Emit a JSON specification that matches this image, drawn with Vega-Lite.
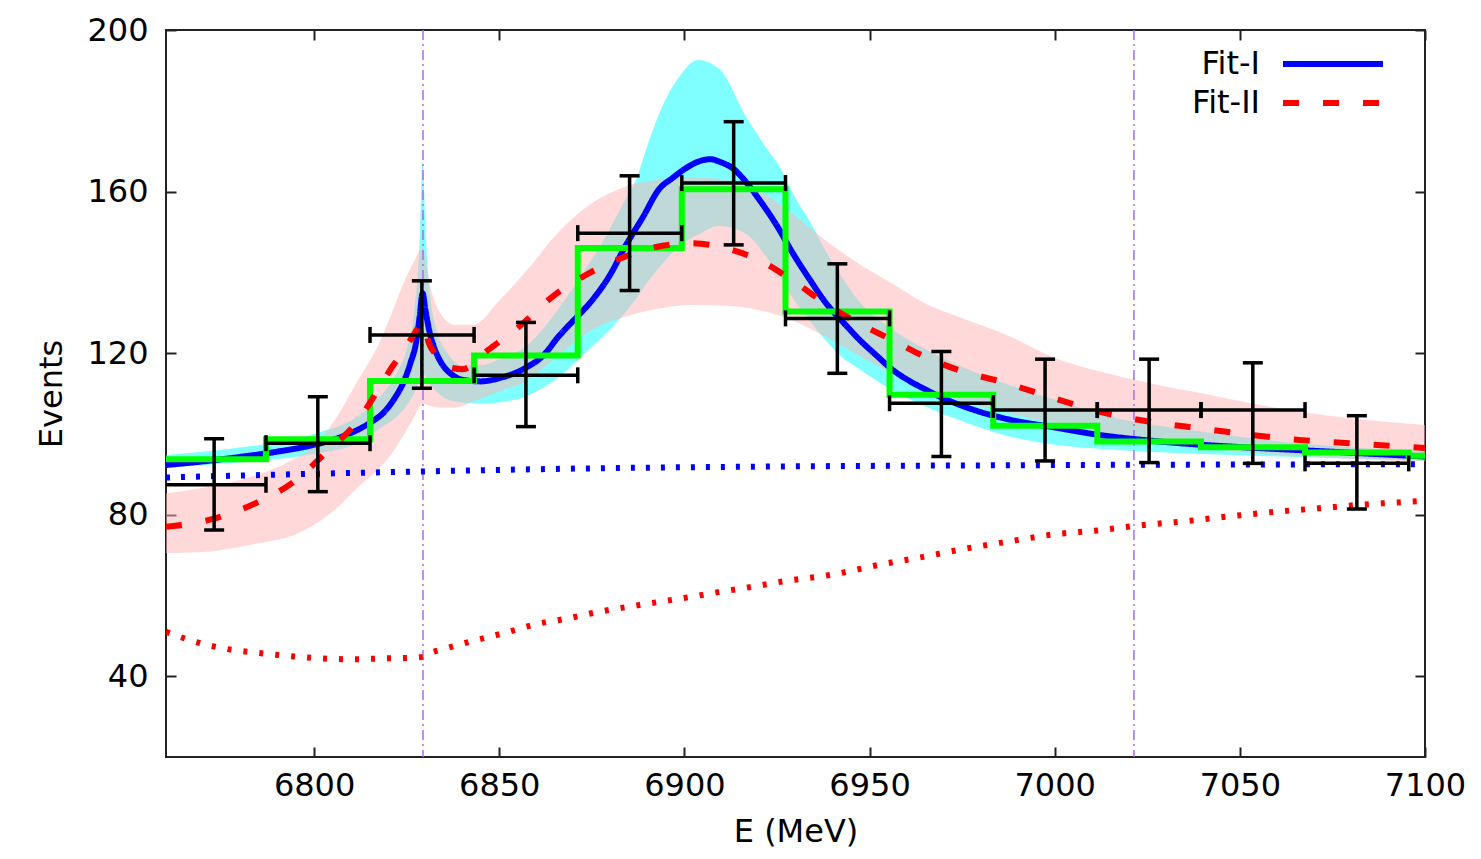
{
  "$schema": "https://vega.github.io/schema/vega-lite/v6.json",
  "width": 1259,
  "height": 727,
  "autosize": "none",
  "padding": {"left": 166, "top": 30, "right": 56, "bottom": 102},
  "background": "white",
  "config": {
    "font": "DejaVu Sans",
    "view": {"stroke": "#222", "strokeWidth": 2},
    "axis": {
      "grid": false,
      "domain": false,
      "tickSize": -10,
      "tickWidth": 2,
      "tickColor": "#222",
      "labelFont": "DejaVu Sans",
      "labelFontSize": 32,
      "labelColor": "#000",
      "labelFlush": false,
      "labelOverlap": false,
      "titleFont": "DejaVu Sans",
      "titleFontSize": 32,
      "titleFontWeight": "normal",
      "titleColor": "#000"
    },
    "legend": {
      "orient": "top-right",
      "offset": 18,
      "padding": 0,
      "title": null,
      "symbolType": "M-5,0H5M6.2,0",
      "symbolSize": 400,
      "symbolStrokeWidth": 6,
      "labelFont": "DejaVu Sans",
      "labelFontSize": 32,
      "labelColor": "#000",
      "labelAlign": "right",
      "labelOffset": -89,
      "labelLimit": 0,
      "rowPadding": 7
    }
  },
  "datasets": {
    "band1": [
      {"E": 6760, "lo": 91.6, "hi": 94.8},
      {"E": 6780, "lo": 93.0, "hi": 96.6},
      {"E": 6800, "lo": 95.0, "hi": 100.0},
      {"E": 6812, "lo": 97.8, "hi": 104.5},
      {"E": 6818, "lo": 101.5, "hi": 109.5},
      {"E": 6822, "lo": 104.0, "hi": 114.5},
      {"E": 6825, "lo": 107.0, "hi": 121.0},
      {"E": 6827, "lo": 110.0, "hi": 130.0},
      {"E": 6828.5, "lo": 113.0, "hi": 148.0},
      {"E": 6829.3, "lo": 115.0, "hi": 167.5},
      {"E": 6830.2, "lo": 114.0, "hi": 148.0},
      {"E": 6831.5, "lo": 112.0, "hi": 133.0},
      {"E": 6833, "lo": 110.5, "hi": 126.0},
      {"E": 6836, "lo": 108.5, "hi": 120.0},
      {"E": 6840, "lo": 107.8, "hi": 117.0},
      {"E": 6845, "lo": 107.5, "hi": 117.0},
      {"E": 6850, "lo": 107.8, "hi": 118.5},
      {"E": 6857, "lo": 109.2, "hi": 121.5},
      {"E": 6866, "lo": 114.0, "hi": 131.0},
      {"E": 6872, "lo": 119.0, "hi": 139.0},
      {"E": 6880, "lo": 126.0, "hi": 151.0},
      {"E": 6884, "lo": 130.0, "hi": 158.0},
      {"E": 6887, "lo": 133.5, "hi": 163.0},
      {"E": 6889.6, "lo": 137.0, "hi": 170.3},
      {"E": 6894, "lo": 142.0, "hi": 181.0},
      {"E": 6898.6, "lo": 146.5, "hi": 188.4},
      {"E": 6903.6, "lo": 149.3, "hi": 192.6},
      {"E": 6909.5, "lo": 151.5, "hi": 190.3},
      {"E": 6916.7, "lo": 149.5, "hi": 178.5},
      {"E": 6922, "lo": 144.0, "hi": 171.0},
      {"E": 6925.7, "lo": 139.0, "hi": 166.2},
      {"E": 6929, "lo": 134.0, "hi": 160.0},
      {"E": 6934.7, "lo": 127.0, "hi": 151.3},
      {"E": 6938, "lo": 123.3, "hi": 145.5},
      {"E": 6941.9, "lo": 119.5, "hi": 139.8},
      {"E": 6947, "lo": 116.2, "hi": 133.0},
      {"E": 6956, "lo": 110.9, "hi": 126.0},
      {"E": 6965, "lo": 106.8, "hi": 121.0},
      {"E": 6974, "lo": 103.5, "hi": 117.0},
      {"E": 6988, "lo": 99.3, "hi": 112.0},
      {"E": 7000, "lo": 97.3, "hi": 108.5},
      {"E": 7012, "lo": 96.3, "hi": 105.0},
      {"E": 7040, "lo": 95.0, "hi": 100.5},
      {"E": 7068, "lo": 94.2, "hi": 97.5},
      {"E": 7100, "lo": 93.4, "hi": 95.8}
    ],
    "band2": [
      {"E": 6760, "lo": 70.5, "hi": 85.3},
      {"E": 6772, "lo": 70.9, "hi": 87.0},
      {"E": 6785, "lo": 72.9, "hi": 90.0},
      {"E": 6794, "lo": 74.8, "hi": 93.5},
      {"E": 6800, "lo": 77.5, "hi": 97.0},
      {"E": 6806, "lo": 81.5, "hi": 104.0},
      {"E": 6812, "lo": 87.0, "hi": 113.5},
      {"E": 6817.6, "lo": 91.5, "hi": 122.5},
      {"E": 6821, "lo": 95.2, "hi": 130.0},
      {"E": 6824, "lo": 99.5, "hi": 137.0},
      {"E": 6826.6, "lo": 103.5, "hi": 142.0},
      {"E": 6829.4, "lo": 107.5, "hi": 146.0},
      {"E": 6831, "lo": 107.0, "hi": 138.0},
      {"E": 6834, "lo": 106.5, "hi": 130.0},
      {"E": 6838, "lo": 106.5, "hi": 127.0},
      {"E": 6843, "lo": 108.0, "hi": 127.0},
      {"E": 6850, "lo": 110.5, "hi": 133.0},
      {"E": 6857, "lo": 113.0, "hi": 140.0},
      {"E": 6866, "lo": 119.5, "hi": 150.0},
      {"E": 6875, "lo": 125.7, "hi": 157.1},
      {"E": 6884, "lo": 129.0, "hi": 161.2},
      {"E": 6893, "lo": 131.0, "hi": 162.9},
      {"E": 6902, "lo": 131.9, "hi": 163.5},
      {"E": 6911, "lo": 131.7, "hi": 162.9},
      {"E": 6920, "lo": 130.7, "hi": 160.4},
      {"E": 6929, "lo": 128.2, "hi": 154.6},
      {"E": 6938, "lo": 124.1, "hi": 148.0},
      {"E": 6947, "lo": 119.5, "hi": 142.2},
      {"E": 6956, "lo": 115.0, "hi": 137.3},
      {"E": 6965, "lo": 111.5, "hi": 132.3},
      {"E": 6974, "lo": 108.4, "hi": 129.0},
      {"E": 6988, "lo": 105.0, "hi": 124.1},
      {"E": 7000, "lo": 102.5, "hi": 118.8},
      {"E": 7012, "lo": 100.0, "hi": 115.5},
      {"E": 7026, "lo": 98.0, "hi": 112.5},
      {"E": 7040, "lo": 96.5, "hi": 110.0},
      {"E": 7053, "lo": 95.3, "hi": 107.6},
      {"E": 7066, "lo": 94.5, "hi": 105.5},
      {"E": 7080, "lo": 93.8, "hi": 103.9},
      {"E": 7100, "lo": 93.2, "hi": 102.2}
    ],
    "thresholds": [
      {"E": 6829.4},
      {"E": 7021.4}
    ],
    "bg1": [
      {"E": 6760, "y": 89.2},
      {"E": 6790, "y": 89.9},
      {"E": 6829, "y": 90.7},
      {"E": 6870, "y": 91.4},
      {"E": 6920, "y": 91.9},
      {"E": 6980, "y": 92.2},
      {"E": 7040, "y": 92.4},
      {"E": 7100, "y": 92.5}
    ],
    "bg2": [
      {"E": 6760, "y": 51.0},
      {"E": 6768, "y": 48.5},
      {"E": 6776, "y": 46.8},
      {"E": 6784.6, "y": 45.8},
      {"E": 6793.4, "y": 45.0},
      {"E": 6801.7, "y": 44.4},
      {"E": 6810.5, "y": 44.2},
      {"E": 6818.7, "y": 44.4},
      {"E": 6827, "y": 44.6},
      {"E": 6829.4, "y": 44.8},
      {"E": 6831, "y": 45.6},
      {"E": 6835.3, "y": 46.8},
      {"E": 6843.6, "y": 48.9},
      {"E": 6851.8, "y": 50.8},
      {"E": 6860, "y": 52.9},
      {"E": 6868.4, "y": 54.3},
      {"E": 6876.6, "y": 55.9},
      {"E": 6884.9, "y": 57.2},
      {"E": 6893.2, "y": 58.4},
      {"E": 6901.4, "y": 59.6},
      {"E": 6909.7, "y": 60.9},
      {"E": 6918, "y": 62.1},
      {"E": 6926.8, "y": 63.5},
      {"E": 6940.2, "y": 65.2},
      {"E": 6952.1, "y": 67.5},
      {"E": 6964.1, "y": 69.5},
      {"E": 6976, "y": 71.6},
      {"E": 6987.9, "y": 73.4},
      {"E": 6999.6, "y": 75.1},
      {"E": 7011.6, "y": 76.1},
      {"E": 7023.5, "y": 77.4},
      {"E": 7035.5, "y": 78.4},
      {"E": 7047.4, "y": 79.6},
      {"E": 7059.5, "y": 80.7},
      {"E": 7071.4, "y": 81.6},
      {"E": 7083.3, "y": 82.5},
      {"E": 7100, "y": 83.4}
    ],
    "fits": [
      {"E": 6760, "fit": "Fit-I", "y": 92.3},
      {"E": 6770, "fit": "Fit-I", "y": 93.2},
      {"E": 6780, "fit": "Fit-I", "y": 94.3},
      {"E": 6790, "fit": "Fit-I", "y": 95.6},
      {"E": 6800, "fit": "Fit-I", "y": 97.3},
      {"E": 6808, "fit": "Fit-I", "y": 99.5},
      {"E": 6815, "fit": "Fit-I", "y": 102.7},
      {"E": 6819, "fit": "Fit-I", "y": 105.5},
      {"E": 6822, "fit": "Fit-I", "y": 109.2},
      {"E": 6824, "fit": "Fit-I", "y": 112.5},
      {"E": 6826, "fit": "Fit-I", "y": 117.5},
      {"E": 6827.5, "fit": "Fit-I", "y": 122.5},
      {"E": 6828.5, "fit": "Fit-I", "y": 129.0},
      {"E": 6829.3, "fit": "Fit-I", "y": 134.8},
      {"E": 6830, "fit": "Fit-I", "y": 131.0},
      {"E": 6831, "fit": "Fit-I", "y": 126.0},
      {"E": 6832, "fit": "Fit-I", "y": 122.5},
      {"E": 6833.5, "fit": "Fit-I", "y": 119.0},
      {"E": 6835, "fit": "Fit-I", "y": 116.7},
      {"E": 6837.5, "fit": "Fit-I", "y": 114.5},
      {"E": 6840, "fit": "Fit-I", "y": 113.4},
      {"E": 6845, "fit": "Fit-I", "y": 113.0},
      {"E": 6850, "fit": "Fit-I", "y": 113.8},
      {"E": 6857, "fit": "Fit-I", "y": 116.3},
      {"E": 6862, "fit": "Fit-I", "y": 119.5},
      {"E": 6866, "fit": "Fit-I", "y": 124.1},
      {"E": 6871, "fit": "Fit-I", "y": 129.0},
      {"E": 6875, "fit": "Fit-I", "y": 133.0},
      {"E": 6880, "fit": "Fit-I", "y": 139.5},
      {"E": 6884, "fit": "Fit-I", "y": 146.4},
      {"E": 6889, "fit": "Fit-I", "y": 154.0},
      {"E": 6893, "fit": "Fit-I", "y": 160.4},
      {"E": 6897, "fit": "Fit-I", "y": 163.5},
      {"E": 6900.4, "fit": "Fit-I", "y": 165.8},
      {"E": 6904, "fit": "Fit-I", "y": 167.5},
      {"E": 6907, "fit": "Fit-I", "y": 168.0},
      {"E": 6910, "fit": "Fit-I", "y": 167.2},
      {"E": 6913, "fit": "Fit-I", "y": 165.8},
      {"E": 6916.5, "fit": "Fit-I", "y": 162.5},
      {"E": 6920.3, "fit": "Fit-I", "y": 157.9},
      {"E": 6925, "fit": "Fit-I", "y": 151.5},
      {"E": 6929.3, "fit": "Fit-I", "y": 144.7},
      {"E": 6934, "fit": "Fit-I", "y": 138.0},
      {"E": 6938.3, "fit": "Fit-I", "y": 132.3},
      {"E": 6943, "fit": "Fit-I", "y": 127.5},
      {"E": 6947.3, "fit": "Fit-I", "y": 123.3},
      {"E": 6952, "fit": "Fit-I", "y": 119.3},
      {"E": 6956.3, "fit": "Fit-I", "y": 115.8},
      {"E": 6961, "fit": "Fit-I", "y": 113.0},
      {"E": 6965.3, "fit": "Fit-I", "y": 110.9},
      {"E": 6970, "fit": "Fit-I", "y": 108.8},
      {"E": 6974.3, "fit": "Fit-I", "y": 107.2},
      {"E": 6980, "fit": "Fit-I", "y": 105.4},
      {"E": 6988, "fit": "Fit-I", "y": 103.5},
      {"E": 7000, "fit": "Fit-I", "y": 101.6},
      {"E": 7011.6, "fit": "Fit-I", "y": 99.8},
      {"E": 7025, "fit": "Fit-I", "y": 98.4},
      {"E": 7039.7, "fit": "Fit-I", "y": 97.3},
      {"E": 7055, "fit": "Fit-I", "y": 96.5},
      {"E": 7068, "fit": "Fit-I", "y": 95.9},
      {"E": 7085, "fit": "Fit-I", "y": 95.1},
      {"E": 7100, "fit": "Fit-I", "y": 94.4},
      {"E": 6760, "fit": "Fit-II", "y": 77.0},
      {"E": 6771.6, "fit": "Fit-II", "y": 78.7},
      {"E": 6785, "fit": "Fit-II", "y": 83.2},
      {"E": 6794, "fit": "Fit-II", "y": 87.8},
      {"E": 6803, "fit": "Fit-II", "y": 95.2},
      {"E": 6812, "fit": "Fit-II", "y": 103.5},
      {"E": 6818, "fit": "Fit-II", "y": 112.0},
      {"E": 6821, "fit": "Fit-II", "y": 116.5},
      {"E": 6823.8, "fit": "Fit-II", "y": 120.0},
      {"E": 6826.6, "fit": "Fit-II", "y": 124.1},
      {"E": 6829.4, "fit": "Fit-II", "y": 127.5},
      {"E": 6831, "fit": "Fit-II", "y": 122.4},
      {"E": 6833, "fit": "Fit-II", "y": 119.5},
      {"E": 6836.5, "fit": "Fit-II", "y": 116.5},
      {"E": 6840, "fit": "Fit-II", "y": 116.0},
      {"E": 6847, "fit": "Fit-II", "y": 120.8},
      {"E": 6855.4, "fit": "Fit-II", "y": 126.6},
      {"E": 6864.4, "fit": "Fit-II", "y": 134.0},
      {"E": 6874.3, "fit": "Fit-II", "y": 139.8},
      {"E": 6884, "fit": "Fit-II", "y": 143.9},
      {"E": 6893, "fit": "Fit-II", "y": 146.4},
      {"E": 6902, "fit": "Fit-II", "y": 147.2},
      {"E": 6911, "fit": "Fit-II", "y": 146.0},
      {"E": 6920, "fit": "Fit-II", "y": 143.1},
      {"E": 6929, "fit": "Fit-II", "y": 138.1},
      {"E": 6938, "fit": "Fit-II", "y": 132.3},
      {"E": 6947, "fit": "Fit-II", "y": 127.4},
      {"E": 6956, "fit": "Fit-II", "y": 123.3},
      {"E": 6965, "fit": "Fit-II", "y": 119.1},
      {"E": 6974, "fit": "Fit-II", "y": 115.8},
      {"E": 6986, "fit": "Fit-II", "y": 112.8},
      {"E": 6998.6, "fit": "Fit-II", "y": 109.2},
      {"E": 7012, "fit": "Fit-II", "y": 105.5},
      {"E": 7025.7, "fit": "Fit-II", "y": 103.0},
      {"E": 7039, "fit": "Fit-II", "y": 101.4},
      {"E": 7052.7, "fit": "Fit-II", "y": 99.8},
      {"E": 7066, "fit": "Fit-II", "y": 98.5},
      {"E": 7079.7, "fit": "Fit-II", "y": 97.7},
      {"E": 7100, "fit": "Fit-II", "y": 96.5}
    ],
    "hist": [
      {"E": 6759, "n": 93.7},
      {"E": 6787, "n": 98.7},
      {"E": 6815.1, "n": 113.1},
      {"E": 6843.2, "n": 119.4},
      {"E": 6871.2, "n": 146.0},
      {"E": 6899.3, "n": 160.6},
      {"E": 6927.3, "n": 130.3},
      {"E": 6955.4, "n": 109.7},
      {"E": 6983.4, "n": 102.0},
      {"E": 7011.5, "n": 98.1},
      {"E": 7039.5, "n": 96.7},
      {"E": 7067.6, "n": 95.4},
      {"E": 7095.6, "n": 94.6},
      {"E": 7123.6, "n": 94.6}
    ],
    "points": [
      {"E": 6773, "n": 87.4, "lo": 76.2, "hi": 98.8, "elo": 6759, "ehi": 6787},
      {"E": 6801, "n": 97.7, "lo": 85.7, "hi": 109.2, "elo": 6787, "ehi": 6815.1},
      {"E": 6829.1, "n": 124.5, "lo": 111.3, "hi": 137.9, "elo": 6815.1, "ehi": 6843.2},
      {"E": 6857.2, "n": 114.5, "lo": 101.8, "hi": 127.6, "elo": 6843.2, "ehi": 6871.2},
      {"E": 6885.2, "n": 149.7, "lo": 135.5, "hi": 163.9, "elo": 6871.2, "ehi": 6899.3},
      {"E": 6913.3, "n": 162.1, "lo": 146.8, "hi": 177.3, "elo": 6899.3, "ehi": 6927.3},
      {"E": 6941.3, "n": 128.6, "lo": 115.0, "hi": 142.1, "elo": 6927.3, "ehi": 6955.4},
      {"E": 6969.4, "n": 107.6, "lo": 94.4, "hi": 120.4, "elo": 6955.4, "ehi": 6983.4},
      {"E": 6997.4, "n": 105.9, "lo": 93.3, "hi": 118.5, "elo": 6983.4, "ehi": 7011.5},
      {"E": 7025.5, "n": 105.9, "lo": 92.9, "hi": 118.5, "elo": 7011.5, "ehi": 7039.5},
      {"E": 7053.5, "n": 105.9, "lo": 92.7, "hi": 117.6, "elo": 7039.5, "ehi": 7067.6},
      {"E": 7081.6, "n": 92.7, "lo": 81.4, "hi": 104.5, "elo": 7067.6, "ehi": 7095.6}
    ]
  },
  "layer": [
    {
      "data": {"name": "band1"},
      "mark": {"type": "area", "color": "#00ffff", "opacity": 0.5, "interpolate": "monotone", "clip": true},
      "encoding": {
        "x": {
          "field": "E", "type": "quantitative",
          "scale": {"domain": [6760, 7100], "nice": false, "zero": false},
          "axis": {"orient": "bottom", "values": [6800, 6850, 6900, 6950, 7000, 7050, 7100], "format": "d", "title": "E (MeV)", "labelPadding": 23, "titlePadding": 15}
        },
        "y": {
          "field": "lo", "type": "quantitative",
          "scale": {"domain": [20, 200], "nice": false, "zero": false},
          "axis": {"orient": "left", "values": [40, 80, 120, 160, 200], "title": "Events", "labelPadding": 28, "titlePadding": 18}
        },
        "y2": {"field": "hi"}
      }
    },
    {
      "data": {"name": "band2"},
      "mark": {"type": "area", "color": "#ffb4b4", "opacity": 0.5, "interpolate": "monotone", "clip": true},
      "encoding": {
        "x": {"field": "E", "type": "quantitative", "axis": {"orient": "top", "values": [6800, 6850, 6900, 6950, 7000, 7050, 7100], "labels": false, "title": null}},
        "y": {"field": "lo", "type": "quantitative", "axis": {"orient": "right", "values": [40, 80, 120, 160, 200], "labels": false, "title": null}},
        "y2": {"field": "hi"}
      }
    },
    {
      "data": {"name": "thresholds"},
      "mark": {"type": "rule", "color": "#a36bff", "strokeWidth": 1.5, "strokeDash": [10, 4, 2, 4]},
      "encoding": {
        "x": {"field": "E", "type": "quantitative", "axis": null}
      }
    },
    {
      "data": {"name": "bg1"},
      "mark": {"type": "line", "color": "#0000ff", "strokeWidth": 6, "strokeDash": [4, 11], "interpolate": "monotone", "clip": true},
      "encoding": {
        "x": {"field": "E", "type": "quantitative", "axis": null},
        "y": {"field": "y", "type": "quantitative", "axis": null}
      }
    },
    {
      "data": {"name": "bg2"},
      "mark": {"type": "line", "color": "#ff0000", "strokeWidth": 6, "strokeDash": [4, 12], "interpolate": "monotone", "clip": true},
      "encoding": {
        "x": {"field": "E", "type": "quantitative", "axis": null},
        "y": {"field": "y", "type": "quantitative", "axis": null}
      }
    },
    {
      "data": {"name": "fits"},
      "transform": [{"filter": "datum.fit === 'Fit-I'"}],
      "mark": {"type": "line", "strokeWidth": 6, "interpolate": "monotone", "clip": true},
      "encoding": {
        "x": {"field": "E", "type": "quantitative", "axis": null},
        "y": {"field": "y", "type": "quantitative", "axis": null},
        "color": {"field": "fit", "type": "nominal", "scale": {"domain": ["Fit-I", "Fit-II"], "range": ["#0000ff", "#ff0000"]}},
        "strokeDash": {"field": "fit", "type": "nominal", "scale": {"domain": ["Fit-I", "Fit-II"], "range": [[1, 0], [16, 24]]}}
      }
    },
    {
      "data": {"name": "hist"},
      "mark": {"type": "line", "color": "#00ff00", "strokeWidth": 6, "interpolate": "step-after", "clip": true},
      "encoding": {
        "x": {"field": "E", "type": "quantitative", "axis": null},
        "y": {"field": "n", "type": "quantitative", "axis": null}
      }
    },
    {
      "data": {"name": "fits"},
      "transform": [{"filter": "datum.fit === 'Fit-II'"}],
      "mark": {"type": "line", "strokeWidth": 6, "interpolate": "monotone", "clip": true},
      "encoding": {
        "x": {"field": "E", "type": "quantitative", "axis": null},
        "y": {"field": "y", "type": "quantitative", "axis": null},
        "color": {"field": "fit", "type": "nominal"},
        "strokeDash": {"field": "fit", "type": "nominal"}
      }
    },
    {
      "data": {"name": "points"},
      "mark": {"type": "rule", "color": "#000", "strokeWidth": 3.5},
      "encoding": {
        "x": {"field": "E", "type": "quantitative", "axis": null},
        "y": {"field": "lo", "type": "quantitative", "axis": null},
        "y2": {"field": "hi"}
      }
    },
    {
      "data": {"name": "points"},
      "mark": {"type": "rule", "color": "#000", "strokeWidth": 3.5, "clip": true},
      "encoding": {
        "x": {"field": "elo", "type": "quantitative", "axis": null},
        "x2": {"field": "ehi"},
        "y": {"field": "n", "type": "quantitative", "axis": null}
      }
    },
    {
      "data": {"name": "points"},
      "transform": [{"fold": ["lo", "hi"], "as": ["end", "v"]}],
      "mark": {"type": "tick", "orient": "horizontal", "color": "#000", "size": 20, "thickness": 3.5, "opacity": 1},
      "encoding": {
        "x": {"field": "E", "type": "quantitative", "axis": null},
        "y": {"field": "v", "type": "quantitative", "axis": null}
      }
    },
    {
      "data": {"name": "points"},
      "transform": [{"fold": ["elo", "ehi"], "as": ["end", "v"]}],
      "mark": {"type": "tick", "orient": "vertical", "color": "#000", "size": 16, "thickness": 3.5, "opacity": 1, "clip": true},
      "encoding": {
        "x": {"field": "v", "type": "quantitative", "axis": null},
        "y": {"field": "n", "type": "quantitative", "axis": null}
      }
    }
  ],
  "resolve": {"axis": {"x": "independent", "y": "independent"}}
}
